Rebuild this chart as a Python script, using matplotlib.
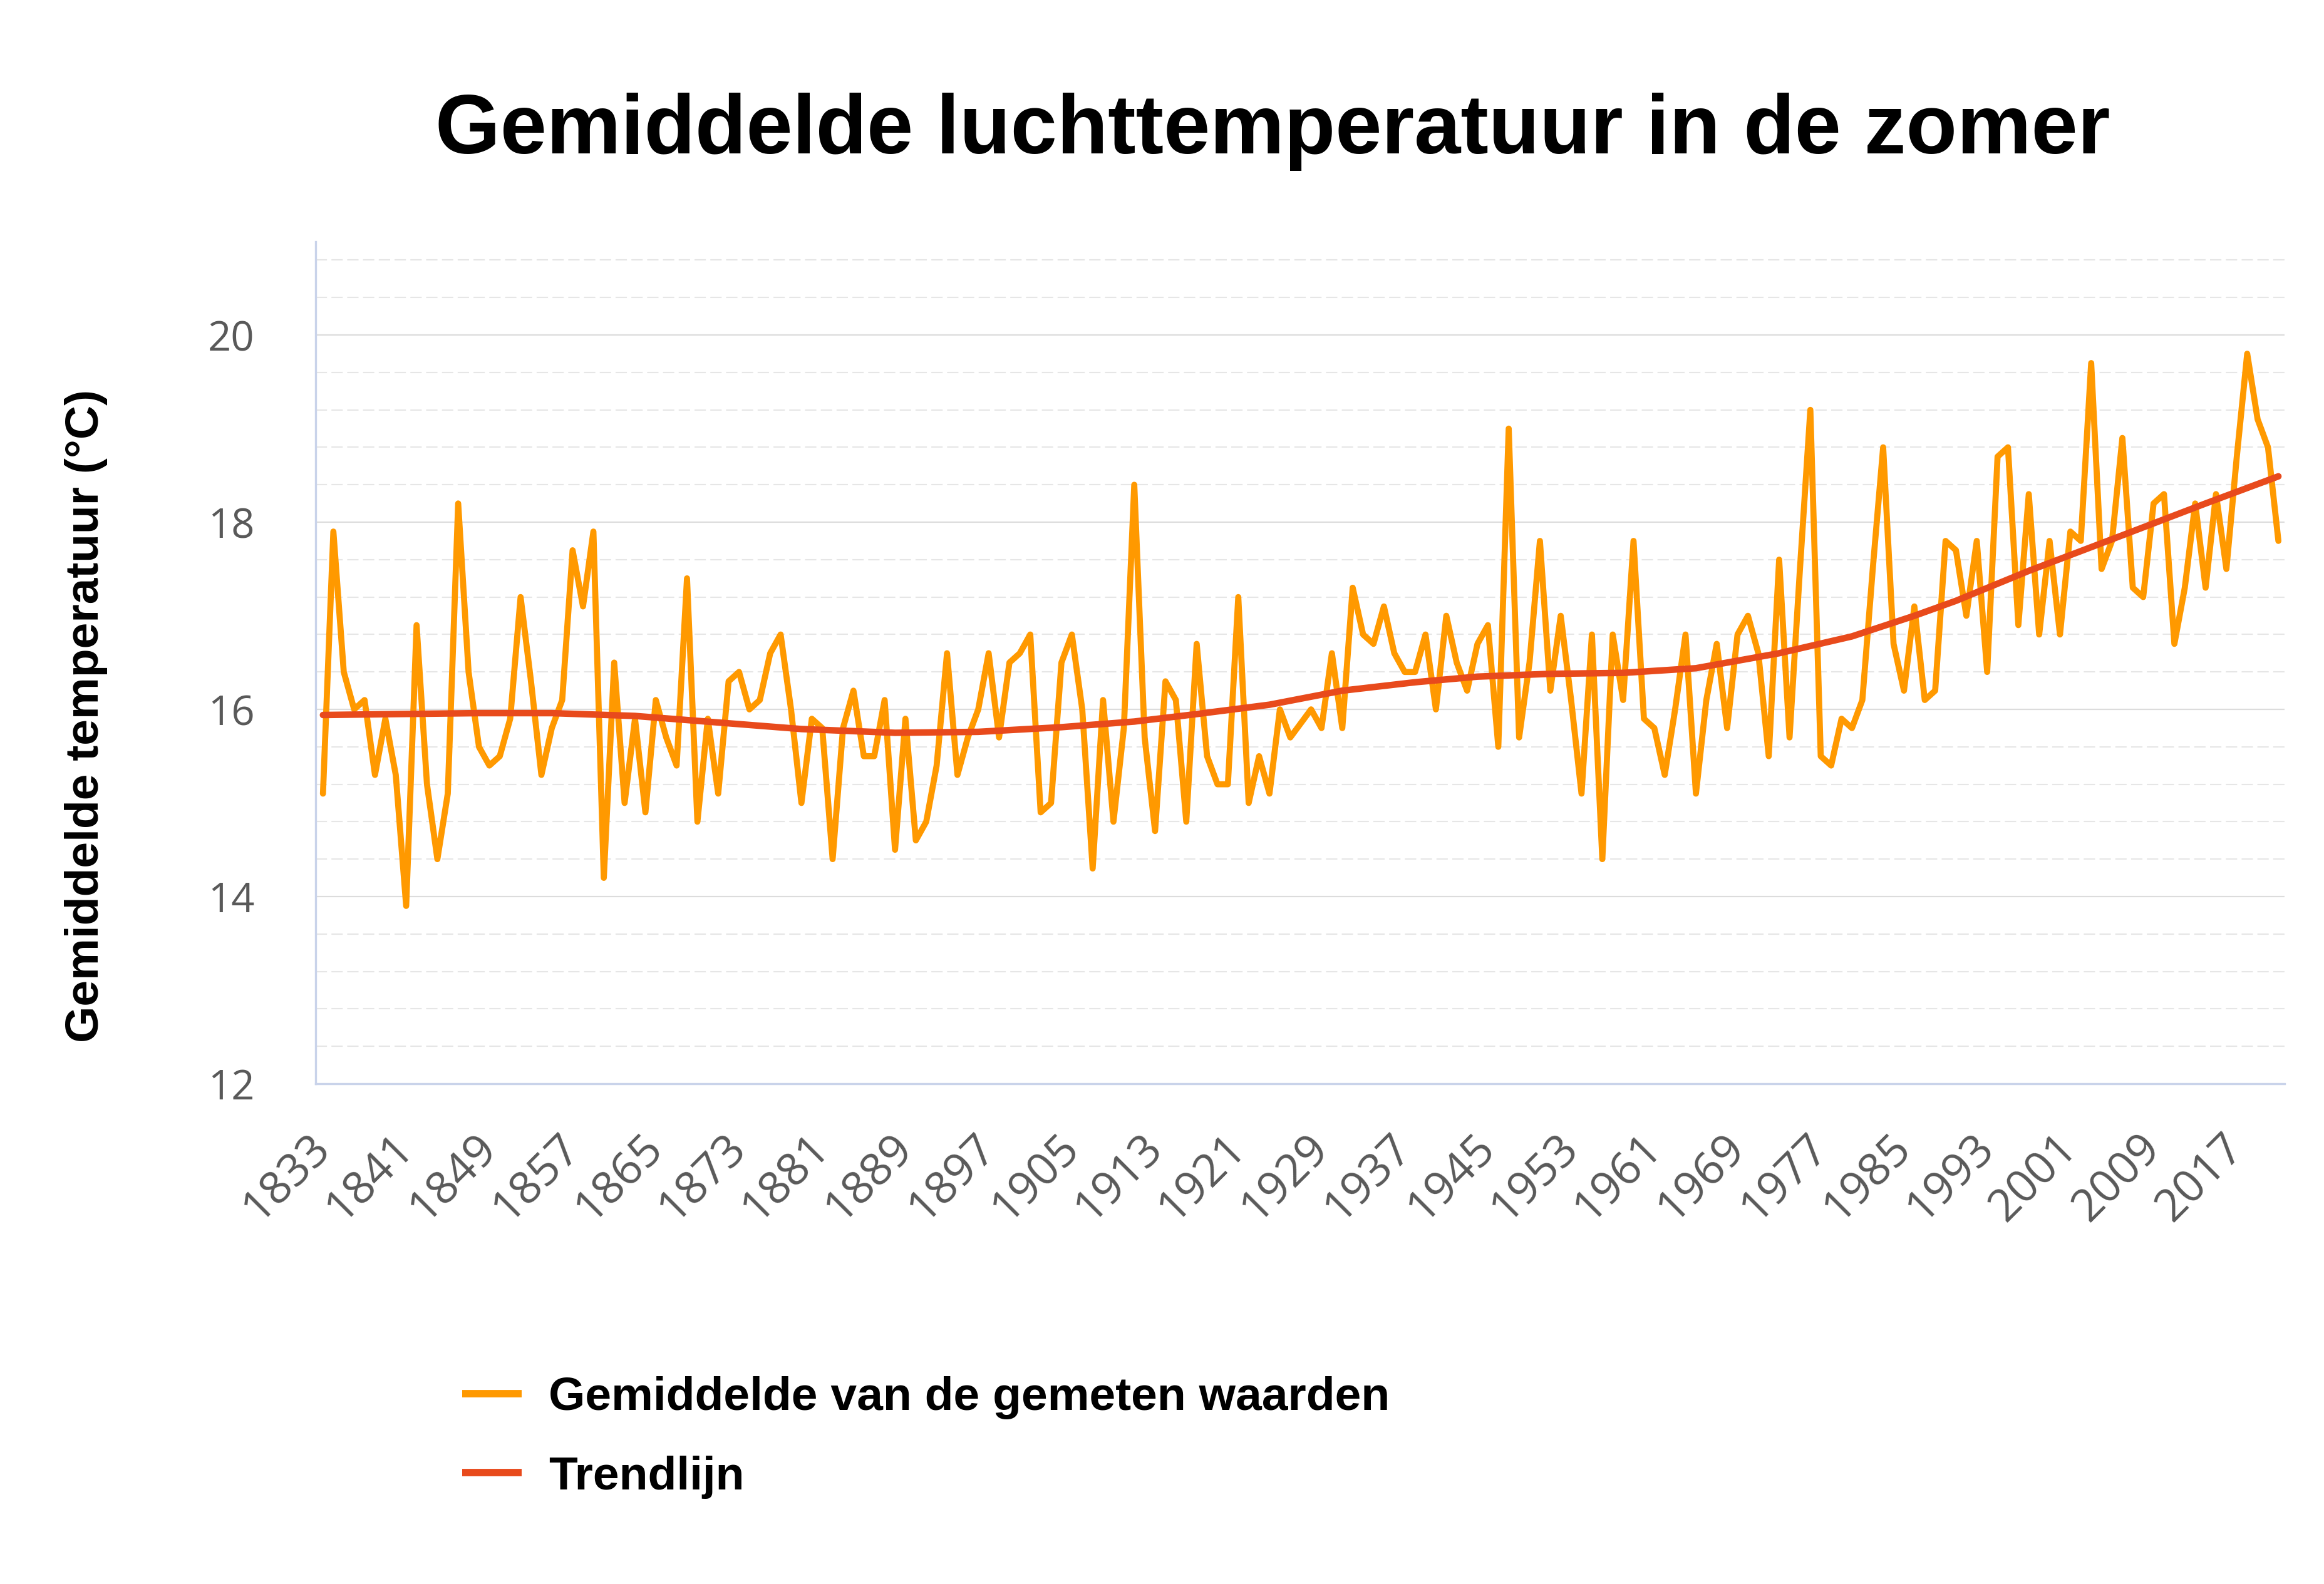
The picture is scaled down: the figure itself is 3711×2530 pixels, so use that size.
#!/usr/bin/env python3
"""
Gemiddelde luchttemperatuur in de zomer (1833-2021) met trendlijn.
"""

import numpy as np
import matplotlib
matplotlib.use("Agg")
import matplotlib.pyplot as plt

# jaren en zomergemiddelden (°C)
years = list(range(1833, 2022))
summer_temp = [
    15.1, 17.9, 16.4, 16.0, 16.1, 15.3, 15.9, 15.3, 13.9, 16.9,  # 1833-1842
    15.2, 14.4, 15.1, 18.2, 16.4, 15.6, 15.4, 15.5, 15.9, 17.2,  # 1843-1852
    16.3, 15.3, 15.8, 16.1, 17.7, 17.1, 17.9, 14.2, 16.5, 15.0,  # 1853-1862
    15.9, 14.9, 16.1, 15.7, 15.4, 17.4, 14.8, 15.9, 15.1, 16.3,  # 1863-1872
    16.4, 16.0, 16.1, 16.6, 16.8, 16.0, 15.0, 15.9, 15.8, 14.4,  # 1873-1882
    15.8, 16.2, 15.5, 15.5, 16.1, 14.5, 15.9, 14.6, 14.8, 15.4,  # 1883-1892
    16.6, 15.3, 15.7, 16.0, 16.6, 15.7, 16.5, 16.6, 16.8, 14.9,  # 1893-1902
    15.0, 16.5, 16.8, 16.0, 14.3, 16.1, 14.8, 15.8, 18.4, 15.7,  # 1903-1912
    14.7, 16.3, 16.1, 14.8, 16.7, 15.5, 15.2, 15.2, 17.2, 15.0,  # 1913-1922
    15.5, 15.1, 16.0, 15.7, 15.85, 16.0, 15.8, 16.6, 15.8, 17.3,  # 1923-1932
    16.8, 16.7, 17.1, 16.6, 16.4, 16.4, 16.8, 16.0, 17.0, 16.5,  # 1933-1942
    16.2, 16.7, 16.9, 15.6, 19.0, 15.7, 16.5, 17.8, 16.2, 17.0,  # 1943-1952
    16.1, 15.1, 16.8, 14.4, 16.8, 16.1, 17.8, 15.9, 15.8, 15.3,  # 1953-1962
    16.0, 16.8, 15.1, 16.1, 16.7, 15.8, 16.8, 17.0, 16.6, 15.5,  # 1963-1972
    17.6, 15.7, 17.5, 19.2, 15.5, 15.4, 15.9, 15.8, 16.1, 17.5,  # 1973-1982
    18.8, 16.7, 16.2, 17.1, 16.1, 16.2, 17.8, 17.7, 17.0, 17.8,  # 1983-1992
    16.4, 18.7, 18.8, 16.9, 18.3, 16.8, 17.8, 16.8, 17.9, 17.8,  # 1993-2002
    19.7, 17.5, 17.8, 18.9, 17.3, 17.2, 18.2, 18.3, 16.7, 17.3,  # 2003-2012
    18.2, 17.3, 18.3, 17.5, 18.7, 19.8, 19.1, 18.8, 17.8,        # 2013-2021
]

trend_years = [1833, 1840, 1848, 1855, 1863, 1871, 1879, 1888, 1896, 1904,
               1911, 1917, 1924, 1931, 1938, 1944, 1951, 1958, 1965, 1973,
               1980, 1986, 1990, 1997, 2006, 2014, 2021]
trend_temp = [15.94, 15.95, 15.96, 15.96, 15.93, 15.86, 15.79, 15.75, 15.76, 15.81,
              15.87, 15.95, 16.05, 16.20, 16.29, 16.35, 16.38, 16.39, 16.44, 16.60,
              16.78, 17.00, 17.16, 17.48, 17.86, 18.20, 18.49]

tick_years = list(range(1833, 2022, 8))
y_major = [12, 14, 16, 18, 20]

label_series = "Gemiddelde van de gemeten waarden"
label_trend = "Trendlijn"

ORANGE = "#ff9900"
TREND = "#e84a1c"
SPINE = "#c9d3ea"
TICK_GREY = "#595959"
BOLD_FONT = "Liberation Sans"
TICK_FONT = "Open Sans"


def main():
    assert len(years) == len(summer_temp)

    fig = plt.figure(figsize=(37.12, 25.30), dpi=100)
    ax = fig.add_axes([0.1358, 0.3158, 0.847, 0.5318])

    ax.plot(years, summer_temp, color=ORANGE, linewidth=7,
            solid_joinstyle="round", solid_capstyle="round",
            label=label_series, zorder=3)
    ax.plot(trend_years, trend_temp, color=TREND, linewidth=7.5,
            solid_joinstyle="round", solid_capstyle="round",
            label=label_trend, zorder=4)

    ax.set_xlim(1832.3, 2021.6)
    ax.set_ylim(12, 21)

    ax.set_yticks(y_major)
    ax.set_yticks([v for v in np.arange(12.4, 21.0, 0.4)
                   if abs(v / 2 - round(v / 2)) > 1e-6], minor=True)
    ax.grid(True, which="major", axis="y", color="#dcdcdc", linewidth=1.6, zorder=0)
    ax.grid(True, which="minor", axis="y", color="#e6e6e6", linewidth=1.5,
            linestyle=(0, (8.7, 3.4)), zorder=0)
    ax.set_axisbelow(True)

    ax.set_xticks(tick_years)
    ax.set_xticklabels([str(y) for y in tick_years], rotation=45,
                       rotation_mode="anchor", ha="right", va="center")
    ax.tick_params(axis="x", length=0, pad=66, labelsize=52, labelcolor=TICK_GREY)
    ax.tick_params(axis="y", which="both", length=0, pad=70, labelsize=47,
                   labelcolor=TICK_GREY)
    for lbl in ax.get_xticklabels() + ax.get_yticklabels():
        lbl.set_family(TICK_FONT)

    for side in ("top", "right"):
        ax.spines[side].set_visible(False)
    for side in ("left", "bottom"):
        ax.spines[side].set_color(SPINE)
        ax.spines[side].set_linewidth(2.4)

    fig.text(0.5475, 0.903, "Gemiddelde luchttemperatuur in de zomer",
             ha="center", va="baseline", fontsize=96, fontweight="bold",
             family=BOLD_FONT, color="black")
    fig.text(0.037, 0.548, "Gemiddelde temperatuur (°C)", rotation=90,
             ha="center", va="center", fontsize=54, fontweight="bold",
             family=BOLD_FONT, color="black")

    handles, labels = ax.get_legend_handles_labels()
    leg = fig.legend(handles, labels, loc="center left",
                     bbox_to_anchor=(0.1988, 0.0926), frameon=False,
                     prop={"family": BOLD_FONT, "weight": "bold", "size": 54},
                     handlelength=1.27, handletextpad=0.57, labelspacing=0.77,
                     borderpad=0, borderaxespad=0)
    for line in leg.get_lines():
        line.set_linewidth(8.5)
        line.set_solid_capstyle("butt")

    fig.savefig("out.png", dpi=100)
    plt.close(fig)


if __name__ == "__main__":
    main()
